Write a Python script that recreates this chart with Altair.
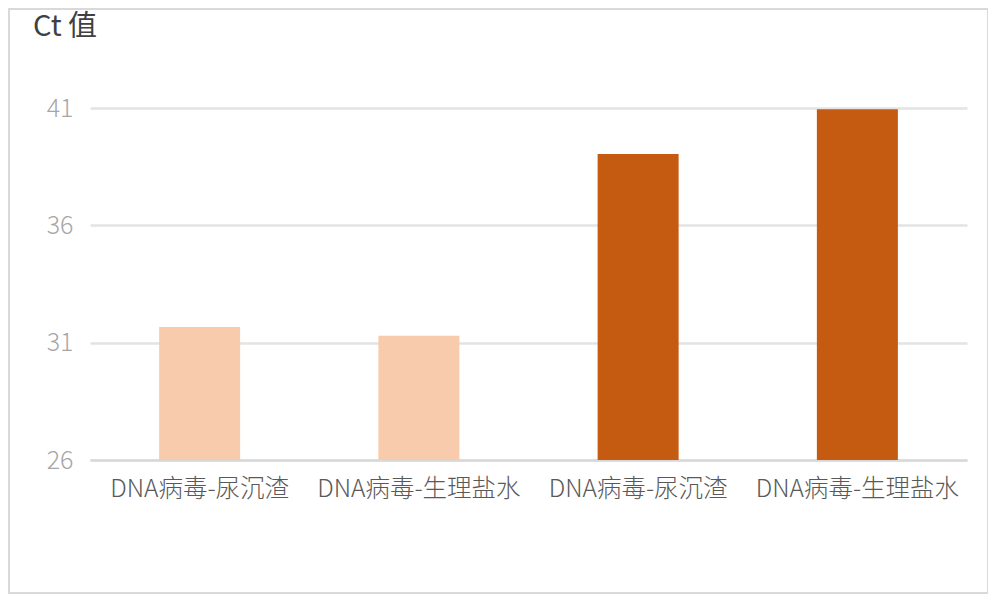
import altair as alt
import pandas as pd

categories = ["DNA病毒-尿沉渣", "DNA病毒-生理盐水", "DNA病毒-尿沉渣", "DNA病毒-生理盐水"]
values = [31.67, 31.3, 39.04, 40.95]
colors = ["#F8CBAD", "#F8CBAD", "#C55A11", "#C55A11"]
y_ticks = [26, 31, 36, 41]
title_text = "Ct 值"

df = pd.DataFrame({
    "idx": list(range(len(categories))),
    "cat": categories,
    "val": values,
    "color": colors,
})

labels_js = "[" + ",".join('"%s"' % c for c in categories) + "]"

FONT = "Noto Sans CJK SC"

bars = alt.Chart(df).mark_bar(size=81, clip=True).encode(
    x=alt.X("idx:O", title=None,
            scale=alt.Scale(paddingInner=0.63, paddingOuter=0.315),
            axis=alt.Axis(labelExpr=labels_js + "[datum.value]", labelAngle=0,
                          labelFontSize=24.5, labelColor="#595959", labelFont=FONT,
                          labelFontWeight=300,
                          labelPadding=17, labelLimit=0, ticks=False, domain=True,
                          domainColor="#d9d9d9", domainWidth=2.5, grid=False)),
    y=alt.Y("val:Q", title=None,
            scale=alt.Scale(domain=[26, 41], nice=False, zero=False),
            axis=alt.Axis(values=y_ticks, labelFontSize=25, labelColor="#a6a6a6",
                          labelFont=FONT, labelFontWeight=300, labelPadding=17,
                          ticks=False, domain=False,
                          grid=True, gridColor="#e3e3e3", gridWidth=2.5)),
    color=alt.Color("color:N", scale=None),
)

title = alt.Chart(pd.DataFrame({"t": [title_text]})).mark_text(
    font=FONT, fontSize=29, color="#404040", align="left", baseline="alphabetic"
).encode(x=alt.value(-57), y=alt.value(-72), text="t:N")

border = alt.Chart(pd.DataFrame({"a": [0]})).mark_rect(
    fill=None, stroke="#d9d9d9", strokeWidth=2
).encode(x=alt.value(-81), x2=alt.value(898), y=alt.value(-99), y2=alt.value(485))

chart = alt.layer(border, bars, title).properties(
    width=877, height=352,
    autosize=alt.AutoSizeParams(type="none"),
    padding={"left": 82, "top": 100, "right": 21, "bottom": 134},
    background="white",
).configure_view(stroke=None)

chart.save("out.html", embed_options={"renderer": "svg", "actions": False})
